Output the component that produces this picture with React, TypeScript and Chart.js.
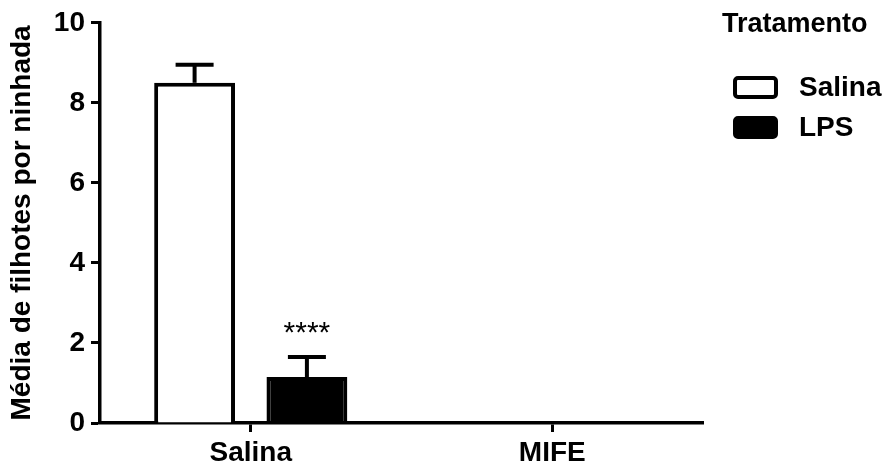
import React, { useEffect, useRef } from "react";
import { Chart, registerables } from "chart.js";

Chart.register(...registerables);

const categories = ["Salina", "MIFE"];
const seriesNames = ["Salina", "LPS"];
const salinaValues = [8.5, null];
const lpsValues = [1.15, null];
const salinaErrors = [0.45, null];
const lpsErrors = [0.5, null];
const lpsMarks = ["****", ""];
const yTicks = [0, 2, 4, 6, 8, 10];
const legendTitle = "Tratamento";
const yTitle = "Média de filhotes por ninhada";

const FONT = "'Liberation Sans', Arial, sans-serif";

const errorBarPlugin = {
  id: "errorBars",
  afterDatasetsDraw(chart: any) {
    const ctx = chart.ctx;
    const yScale = chart.scales.y;
    chart.data.datasets.forEach((ds: any, di: number) => {
      const meta = chart.getDatasetMeta(di);
      const errs = ds.errors || [];
      const marks = ds.marks || [];
      meta.data.forEach((bar: any, i: number) => {
        const v = ds.data[i];
        if (v === null || v === undefined) return;
        const e = errs[i] || 0;
        const yTop = yScale.getPixelForValue(v + e);
        ctx.save();
        ctx.strokeStyle = "#000";
        ctx.lineWidth = 4;
        ctx.lineCap = "butt";
        ctx.beginPath();
        ctx.moveTo(bar.x, bar.y);
        ctx.lineTo(bar.x, yTop);
        ctx.stroke();
        ctx.beginPath();
        ctx.moveTo(bar.x - 19, yTop);
        ctx.lineTo(bar.x + 19, yTop);
        ctx.stroke();
        if (marks[i]) {
          ctx.fillStyle = "#000";
          ctx.font = `30px ${FONT}`;
          ctx.textAlign = "center";
          ctx.textBaseline = "middle";
          ctx.fillText(marks[i], bar.x, yTop - 23);
        }
        ctx.restore();
      });
    });
  },
};

const legendPlugin = {
  id: "customLegend",
  afterDraw(chart: any) {
    const ctx = chart.ctx;
    ctx.save();
    ctx.fillStyle = "#000";
    ctx.font = `bold 27px ${FONT}`;
    ctx.textAlign = "left";
    ctx.textBaseline = "alphabetic";
    ctx.fillText(legendTitle, 722, 32);
    chart.data.datasets.forEach((ds: any, i: number) => {
      const top = 76 + i * 40;
      ctx.fillStyle = ds.backgroundColor;
      ctx.strokeStyle = ds.borderColor;
      ctx.lineWidth = 4;
      ctx.beginPath();
      ctx.roundRect(735, top + 2, 41, 19, 3);
      ctx.fill();
      ctx.stroke();
      ctx.fillStyle = "#000";
      ctx.font = `bold 28px ${FONT}`;
      ctx.textBaseline = "middle";
      ctx.fillText(ds.label, 799, top + 12);
    });
    ctx.restore();
  },
};

export default function App() {
  const ref = useRef<HTMLCanvasElement>(null);
  useEffect(() => {
    if (!ref.current) return;
    const chart = new Chart(ref.current, {
      type: "bar",
      data: {
        labels: categories,
        datasets: [
          {
            label: seriesNames[0],
            data: salinaValues,
            backgroundColor: "#ffffff",
            borderColor: "#000000",
            borderWidth: 4,
            errors: salinaErrors,
            marks: ["", ""],
          } as any,
          {
            label: seriesNames[1],
            data: lpsValues,
            backgroundColor: "#000000",
            borderColor: "#000000",
            borderWidth: 4,
            errors: lpsErrors,
            marks: lpsMarks,
          } as any,
        ],
      },
      options: {
        animation: false,
        responsive: false,
        maintainAspectRatio: false,
        categoryPercentage: 0.745,
        barPercentage: 0.72,
        layout: { padding: { top: 22, right: 186, left: 0, bottom: 0 } },
        plugins: {
          legend: { display: false },
          tooltip: { enabled: false },
        },
        scales: {
          x: {
            afterFit(scale: any) {
              scale.height = 46;
            },
            grid: {
              display: true,
              drawOnChartArea: false,
              drawTicks: true,
              offset: false,
              tickLength: 9,
              tickWidth: 3,
              color: "#000",
            },
            border: { display: true, color: "#000", width: 3.5 },
            ticks: {
              color: "#000",
              font: { family: FONT, size: 28, weight: "bold" },
              padding: 4,
            },
          },
          y: {
            min: 0,
            max: 10,
            afterFit(scale: any) {
              scale.width = 100;
            },
            afterBuildTicks(scale: any) {
              scale.ticks = yTicks.map((v) => ({ value: v }));
            },
            grid: {
              display: true,
              drawOnChartArea: false,
              drawTicks: true,
              tickLength: 9,
              tickWidth: 3,
              color: "#000",
            },
            border: { display: true, color: "#000", width: 3.5 },
            ticks: {
              color: "#000",
              font: { family: FONT, size: 28, weight: "bold" },
              padding: 6,
            },
            title: {
              display: true,
              text: yTitle,
              color: "#000",
              font: { family: FONT, size: 28, weight: "bold" },
              padding: { top: 5, bottom: 0 },
            },
          },
        },
      },
      plugins: [errorBarPlugin, legendPlugin],
    } as any);
    return () => chart.destroy();
  }, []);
  return (
    <div style={{ position: "absolute", left: 0, top: 0, width: 889, height: 469, background: "#fff" }}>
      <canvas ref={ref} width={889} height={469} style={{ display: "block" }} />
    </div>
  );
}
